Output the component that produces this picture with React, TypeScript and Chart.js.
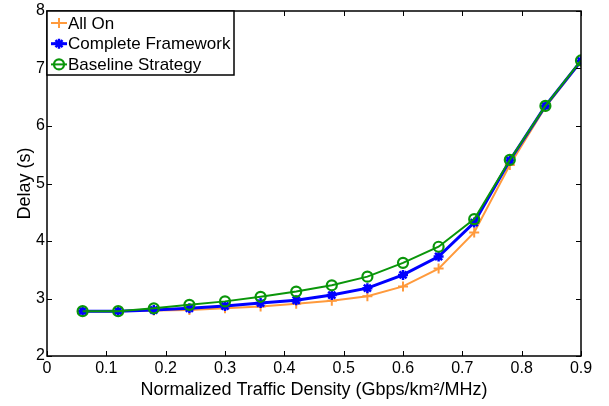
import React, { useEffect, useRef } from "react";
import { Chart, registerables } from "chart.js";

Chart.register(...registerables);

const xValues = [0.06, 0.12, 0.18, 0.24, 0.3, 0.36, 0.42, 0.48, 0.54, 0.6, 0.66, 0.72, 0.78, 0.84, 0.9];
const allOn = [2.78, 2.78, 2.79, 2.8, 2.83, 2.86, 2.91, 2.96, 3.04, 3.21, 3.52, 4.15, 5.32, 6.33, 7.12];
const complete = [2.78, 2.78, 2.8, 2.83, 2.87, 2.92, 2.97, 3.06, 3.18, 3.41, 3.73, 4.32, 5.4, 6.35, 7.13];
const baseline = [2.78, 2.78, 2.83, 2.89, 2.95, 3.03, 3.12, 3.23, 3.38, 3.62, 3.9, 4.38, 5.41, 6.35, 7.14];

const seriesNames = ["All On", "Complete Framework", "Baseline Strategy"];
const seriesColors = ["#ff9a3c", "#0000ff", "#0a960a"];

const xTickValues = [0, 0.1, 0.2, 0.3, 0.4, 0.5, 0.6, 0.7, 0.8, 0.9];
const xTickLabels = ["0", "0.1", "0.2", "0.3", "0.4", "0.5", "0.6", "0.7", "0.8", "0.9"];
const yTickValues = [2, 3, 4, 5, 6, 7, 8];
const yTickLabels = ["2", "3", "4", "5", "6", "7", "8"];

const xTitle = "Normalized Traffic Density (Gbps/km\u00b2/MHz)";
const yTitle = "Delay (s)";

const FONT = "'Liberation Sans', Arial, sans-serif";

function drawMarker(ctx: CanvasRenderingContext2D, kind: number, x: number, y: number, color: string) {
  ctx.save();
  ctx.strokeStyle = color;
  ctx.lineCap = "butt";
  if (kind === 0) {
    ctx.lineWidth = 2;
    ctx.beginPath();
    ctx.moveTo(x - 5, y);
    ctx.lineTo(x + 5, y);
    ctx.moveTo(x, y - 5);
    ctx.lineTo(x, y + 5);
    ctx.stroke();
  } else if (kind === 1) {
    ctx.lineWidth = 2.5;
    ctx.beginPath();
    for (let a = 0; a < 4; a++) {
      const ang = (a * Math.PI) / 4;
      ctx.moveTo(x - 5 * Math.cos(ang), y - 5 * Math.sin(ang));
      ctx.lineTo(x + 5 * Math.cos(ang), y + 5 * Math.sin(ang));
    }
    ctx.stroke();
  } else {
    ctx.lineWidth = 2.2;
    ctx.beginPath();
    ctx.arc(x, y, 5, 0, Math.PI * 2);
    ctx.stroke();
  }
  ctx.restore();
}

const framePlugin = {
  id: "frameTicksLegend",
  afterDraw(chart: any) {
    const ctx: CanvasRenderingContext2D = chart.ctx;
    const { left, right, top, bottom } = chart.chartArea;
    const xs = chart.scales.x;
    const ys = chart.scales.y;
    ctx.save();
    ctx.strokeStyle = "#000";
    ctx.lineWidth = 1.5;
    ctx.strokeRect(left, top, right - left, bottom - top);
    ctx.lineWidth = 1;
    ctx.beginPath();
    const tl = 5;
    xTickValues.forEach((v) => {
      const px = Math.round(xs.getPixelForValue(v)) + 0.5;
      ctx.moveTo(px, bottom);
      ctx.lineTo(px, bottom - tl);
      ctx.moveTo(px, top);
      ctx.lineTo(px, top + tl);
    });
    yTickValues.forEach((v) => {
      const py = Math.round(ys.getPixelForValue(v)) + 0.5;
      ctx.moveTo(left, py);
      ctx.lineTo(left + tl, py);
      ctx.moveTo(right, py);
      ctx.lineTo(right - tl, py);
    });
    ctx.stroke();

    // legend box
    const bw = 187;
    const bh = 64;
    ctx.fillStyle = "#fff";
    ctx.fillRect(left, top, bw, bh);
    ctx.lineWidth = 1.5;
    ctx.strokeStyle = "#000";
    ctx.strokeRect(left, top, bw, bh);
    ctx.font = `17px ${FONT}`;
    ctx.textBaseline = "middle";
    ctx.textAlign = "left";
    seriesNames.forEach((name, i) => {
      const y = top + 12 + i * 20.7;
      const color = seriesColors[i];
      ctx.strokeStyle = color;
      ctx.lineWidth = i === 1 ? 3 : 2;
      ctx.beginPath();
      ctx.moveTo(left + 4, y);
      ctx.lineTo(left + 20, y);
      ctx.stroke();
      drawMarker(ctx, i, left + 12, y, color);
      ctx.fillStyle = "#000";
      ctx.fillText(name, left + 21, y + 1);
    });
    ctx.restore();
  },
};

export default function App() {
  const ref = useRef<HTMLCanvasElement | null>(null);
  useEffect(() => {
    if (!ref.current) return;
    const toPts = (ys: number[]) => xValues.map((x, i) => ({ x, y: ys[i] }));
    const chart = new Chart(ref.current, {
      type: "line",
      data: {
        datasets: [
          {
            label: seriesNames[0],
            data: toPts(allOn),
            borderColor: seriesColors[0],
            backgroundColor: seriesColors[0],
            borderWidth: 2,
            pointStyle: "cross",
            pointRadius: 5,
            pointBorderWidth: 2,
            order: 3,
          },
          {
            label: seriesNames[1],
            data: toPts(complete),
            borderColor: seriesColors[1],
            backgroundColor: seriesColors[1],
            borderWidth: 3,
            pointStyle: "star",
            pointRadius: 5,
            pointBorderWidth: 2.5,
            order: 2,
          },
          {
            label: seriesNames[2],
            data: toPts(baseline),
            borderColor: seriesColors[2],
            backgroundColor: "rgba(0,0,0,0)",
            borderWidth: 2,
            pointStyle: "circle",
            pointRadius: 5,
            pointBorderWidth: 2.2,
            order: 1,
          },
        ],
      },
      options: {
        responsive: false,
        animation: false,
        layout: { padding: { top: 11, right: 28, left: 0, bottom: 0 } },
        plugins: {
          legend: { display: false },
          tooltip: { enabled: false },
        },
        scales: {
          x: {
            type: "linear",
            min: 0,
            max: 0.9,
            grid: { display: false, drawTicks: false, tickLength: 0 },
            border: { display: false },
            afterBuildTicks: (s: any) => {
              s.ticks = xTickValues.map((v) => ({ value: v }));
            },
            afterFit: (s: any) => {
              s.height = 50;
              s.paddingLeft = 0;
              s.paddingRight = 0;
            },
            ticks: {
              color: "#000",
              font: { family: FONT, size: 16 },
              padding: 3,
              maxRotation: 0,
              autoSkip: false,
              callback: (_v: any, i: number) => xTickLabels[i],
            },
            title: {
              display: true,
              text: xTitle,
              color: "#000",
              font: { family: FONT, size: 18 },
              padding: { top: 0, bottom: 5 },
            },
          },
          y: {
            type: "linear",
            min: 2,
            max: 8,
            grid: { display: false, drawTicks: false, tickLength: 0 },
            border: { display: false },
            afterBuildTicks: (s: any) => {
              s.ticks = yTickValues.map((v) => ({ value: v }));
            },
            afterFit: (s: any) => {
              s.width = 47;
              s.paddingTop = 0;
              s.paddingBottom = 0;
            },
            ticks: {
              color: "#000",
              font: { family: FONT, size: 16 },
              padding: 2,
              autoSkip: false,
              callback: (_v: any, i: number) => yTickLabels[i],
            },
            title: {
              display: true,
              text: yTitle,
              color: "#000",
              font: { family: FONT, size: 18 },
              padding: { top: 14, bottom: 0 },
            },
          },
        },
      },
      plugins: [framePlugin],
    });
    return () => chart.destroy();
  }, []);
  return (
    <div style={{ position: "fixed", left: 0, top: 0, width: 609, height: 406, background: "#fff" }}>
      <canvas ref={ref} width={609} height={406} style={{ display: "block" }} />
    </div>
  );
}
